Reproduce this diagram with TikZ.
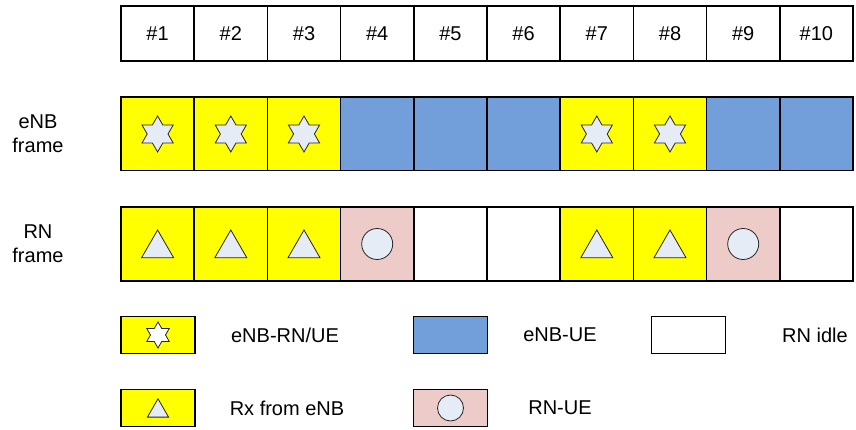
\documentclass[tikz,border=0pt]{standalone}
\usepackage{fontspec}
\setmainfont{Liberation Sans}
\usetikzlibrary{shapes.geometric}
\definecolor{ylw}{RGB}{255,255,0}
\definecolor{blu}{RGB}{114,159,218}
\definecolor{pnk}{RGB}{236,203,200}
\definecolor{sym}{RGB}{230,236,245}
\begin{document}
\begin{tikzpicture}[x=1pt, y=-1pt, font=\fontsize{20}{24}\selectfont,
  slot/.style={shape=rectangle, draw=black, line width=1.5pt, minimum width=73.2pt, minimum height=73.5pt, inner sep=0pt},
  num/.style={slot, minimum height=55pt, fill=white},
  tx/.style={slot, fill=ylw},
  ue/.style={slot, fill=blu},
  acc/.style={slot, fill=pnk},
  idle/.style={slot, fill=white},
  key/.style={slot, minimum width=74pt, minimum height=37pt},
  hexstar/.style={shape=star, star points=6, star point ratio=1.73, draw=black!85, fill=sym, line width=0.8pt, minimum size=36pt, inner sep=0pt},
  tri/.style={shape=regular polygon, regular polygon sides=3, draw=black!85, fill=sym, line width=0.8pt, minimum size=37pt, inner sep=0pt},
  dot/.style={shape=circle, draw=black!85, fill=sym, line width=0.8pt, minimum size=31pt, inner sep=0pt}]
\useasboundingbox (0,0) rectangle (856,430);
% subframe numbers
\node[num] (n1) at (157.6,33.5) {\#1};
\node[num] (n2) at (230.8,33.5) {\#2};
\node[num] (n3) at (304.0,33.5) {\#3};
\node[num] (n4) at (377.2,33.5) {\#4};
\node[num] (n5) at (450.4,33.5) {\#5};
\node[num] (n6) at (523.6,33.5) {\#6};
\node[num] (n7) at (596.8,33.5) {\#7};
\node[num] (n8) at (670.0,33.5) {\#8};
\node[num] (n9) at (743.2,33.5) {\#9};
\node[num] (n10) at (816.4,33.5) {\#10};
% eNB frame
\node[align=center] (lenb) at (38,134) {eNB\\frame};
\node[tx] (e1) at (157.6,134) {};
\node[tx] (e2) at (230.8,134) {};
\node[tx] (e3) at (304.0,134) {};
\node[ue] (e4) at (377.2,134) {};
\node[ue] (e5) at (450.4,134) {};
\node[ue] (e6) at (523.6,134) {};
\node[tx] (e7) at (596.8,134) {};
\node[tx] (e8) at (670.0,134) {};
\node[ue] (e9) at (743.2,134) {};
\node[ue] (e10) at (816.4,134) {};
\node[hexstar] (s1) at (e1) {};
\node[hexstar] (s2) at (e2) {};
\node[hexstar] (s3) at (e3) {};
\node[hexstar] (s7) at (e7) {};
\node[hexstar] (s8) at (e8) {};
% RN frame
\node[align=center] (lrn) at (38,244) {RN\\frame};
\node[tx] (r1) at (157.6,244) {};
\node[tx] (r2) at (230.8,244) {};
\node[tx] (r3) at (304.0,244) {};
\node[acc] (r4) at (377.2,244) {};
\node[idle] (r5) at (450.4,244) {};
\node[idle] (r6) at (523.6,244) {};
\node[tx] (r7) at (596.8,244) {};
\node[tx] (r8) at (670.0,244) {};
\node[acc] (r9) at (743.2,244) {};
\node[idle] (r10) at (816.4,244) {};
\node[tri, yshift=-4.5pt] (t1) at (r1) {};
\node[tri, yshift=-4.5pt] (t2) at (r2) {};
\node[tri, yshift=-4.5pt] (t3) at (r3) {};
\node[dot] (c4) at (r4) {};
\node[tri, yshift=-4.5pt] (t7) at (r7) {};
\node[tri, yshift=-4.5pt] (t8) at (r8) {};
\node[dot] (c9) at (r9) {};
% legend
\node[key, fill=ylw] (k1) at (158,335) {};
\node[hexstar, fill=white, minimum size=26pt] (k1s) at (k1) {};
\node (k1t) at (285,335) {eNB-RN/UE};
\node[key, fill=blu] (k2) at (450.5,335) {};
\node (k2t) at (560,335) {eNB-UE};
\node[key, fill=white] (k3) at (688.7,335) {};
\node (k3t) at (815,335) {RN idle};
\node[key, fill=ylw] (k4) at (158,408) {};
\node[tri, minimum size=24.4pt, yshift=-3pt] (k4s) at (k4) {};
\node (k4t) at (287,408) {Rx from eNB};
\node[key, fill=pnk] (k5) at (450.5,408) {};
\node[dot, minimum size=26pt] (k5s) at (k5) {};
\node (k5t) at (560,408) {RN-UE};
\end{tikzpicture}
\end{document}
